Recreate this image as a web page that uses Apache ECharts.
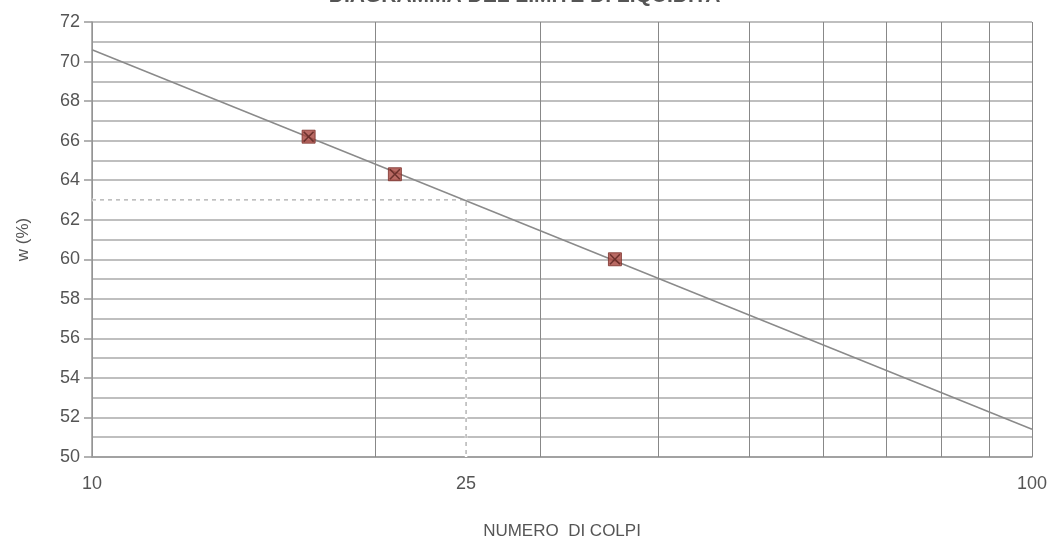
<!DOCTYPE html>
<html>
<head>
<meta charset="utf-8">
<script src="https://cdn.jsdelivr.net/npm/echarts@6/dist/echarts.min.js"></script>
<style>
  html, body { margin: 0; padding: 0; background: #fff; }
  #chart { width: 1054px; height: 548px; }
</style>
</head>
<body>
<div id="chart"></div>
<script>
// punti sperimentali (numero di colpi, contenuto d'acqua)
const blows = [17, 21, 36];
const water = [66.2, 64.3, 60.0];

// retta di interpolazione agli estremi dell'asse
const trendBlows = [10, 100];
const trendWater = [70.6, 51.4];

// griglia verticale e etichette asse x
const gridBlows = [20, 30, 40, 50, 60, 70, 80, 90];
const xLabels = [10, 25, 100];

// limite di liquidita' a 25 colpi
const llBlows = 25;
const llWater = 63;

const chart = echarts.init(document.getElementById('chart'));

const font = 'Liberation Sans, Arial, sans-serif';
const llPath = [[trendBlows[0], llWater], [llBlows, llWater], [llBlows, 50]];
const points = blows.map((b, i) => [b, water[i]]);

const option = {
  animation: false,
  backgroundColor: '#fff',
  title: {
    text: "DIAGRAMMA DEL LIMITE DI LIQUIDITA'",
    left: 'center',
    top: -14,
    padding: 0,
    textStyle: { fontFamily: font, fontSize: 21, fontWeight: 'bold', color: '#555' }
  },
  grid: { left: 92, right: 22, top: 22, bottom: 91 },
  xAxis: {
    type: 'log',
    logBase: 10,
    min: 10,
    max: 100,
    name: 'NUMERO  DI COLPI',
    nameLocation: 'middle',
    nameGap: 66,
    nameTextStyle: { fontFamily: font, fontSize: 17, color: '#555' },
    axisLine: { show: true, lineStyle: { color: '#999', width: 1.5 } },
    axisTick: { show: false },
    axisLabel: {
      customValues: xLabels,
      fontFamily: font,
      fontSize: 18,
      color: '#555',
      margin: 18
    },
    splitLine: { show: true, lineStyle: { color: '#888', width: 1 } }
  },
  yAxis: {
    type: 'value',
    min: 50,
    max: 72,
    interval: 2,
    name: 'w (%)',
    nameLocation: 'middle',
    nameGap: 60,
    nameTextStyle: { fontFamily: font, fontSize: 17, color: '#555' },
    axisLine: { show: true, lineStyle: { color: '#999', width: 1.5 } },
    axisTick: { show: true, length: 8, lineStyle: { color: '#999', width: 1.5 } },
    axisLabel: { fontFamily: font, fontSize: 18, color: '#555', margin: 12 },
    splitLine: { show: true, lineStyle: { color: '#aaa', width: 1.5 } },
    minorTick: { show: false, splitNumber: 2 },
    minorSplitLine: { show: true, lineStyle: { color: '#aaa', width: 1.5 } }
  },
  series: [
    {
      name: 'retta',
      type: 'line',
      data: trendBlows.map((b, i) => [b, trendWater[i]]),
      symbol: 'none',
      lineStyle: { color: '#8a8a8a', width: 1.5 },
      z: 4,
      markLine: {
        silent: true,
        symbol: 'none',
        label: { show: false },
        lineStyle: { color: '#888', width: 1, type: 'solid' },
        data: gridBlows.map(v => ({ xAxis: v }))
      }
    },
    {
      // copre la griglia sotto la linea tratteggiata
      name: 'sfondo',
      type: 'line',
      data: llPath,
      symbol: 'none',
      lineStyle: { color: '#fff', width: 2.5 },
      z: 2
    },
    {
      name: 'limite',
      type: 'line',
      data: llPath,
      symbol: 'none',
      lineStyle: { color: '#aaa', width: 1.3, type: [4, 4] },
      z: 3
    },
    {
      name: 'punti',
      type: 'scatter',
      data: points,
      symbol: 'rect',
      symbolSize: 13,
      itemStyle: { color: '#a8453d', borderColor: '#7a2e28', borderWidth: 1 },
      z: 5
    },
    {
      name: 'croci',
      type: 'scatter',
      data: points,
      symbol: 'path://M0,1 L1,0 L5,4 L9,0 L10,1 L6,5 L10,9 L9,10 L5,6 L1,10 L0,9 L4,5 Z',
      symbolSize: 11,
      itemStyle: { color: '#5a2420' },
      z: 6
    }
  ]
};

chart.setOption(option);
</script>
</body>
</html>
